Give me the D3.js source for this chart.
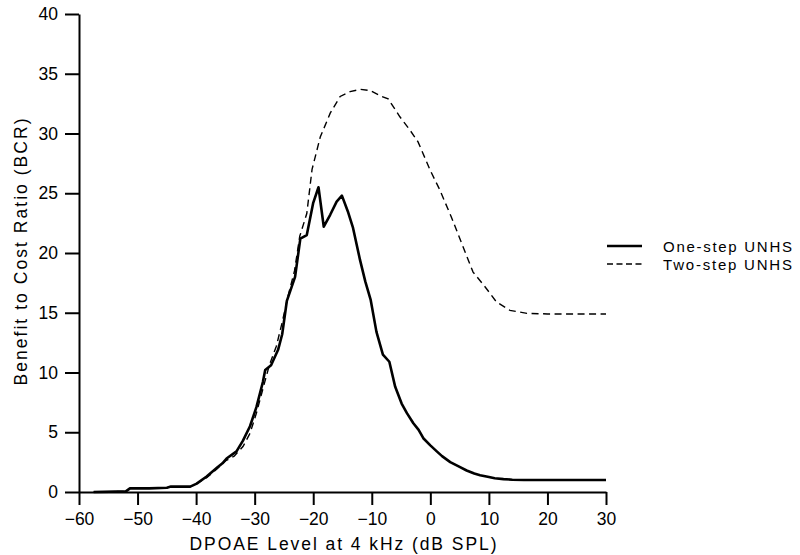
<!DOCTYPE html>
<html>
<head>
<meta charset="utf-8">
<script src="https://cdn.jsdelivr.net/npm/d3@7"></script>
<style>
  html, body { margin: 0; padding: 0; background: #fff; }
  svg text { font-family: "Liberation Sans", Arial, sans-serif; fill: #000; }
</style>
</head>
<body>
<svg id="chart" width="800" height="555"></svg>
<script>
// ---- data ----
const oneStepX = [-57.5, -52, -51.3, -48, -45, -44.3, -41, -39.9, -38.2, -36.5, -35.5, -34.8, -33.1, -32, -30.8, -29.7, -28.6, -28.2, -27.2, -26, -25.3, -24.5, -23.1, -22.2, -21.1, -20, -19.1, -18.2, -17.1, -16, -15.1, -14.1, -13.2, -12, -11.1, -10.2, -9.2, -8.1, -7, -6, -4.9, -4, -2.9, -2, -1.2, 0, 1.1, 2, 3.4, 5, 6.2, 7.5, 8.5, 10, 11, 12.5, 14, 16, 18, 30];
const oneStepY = [0, 0.05, 0.3, 0.3, 0.35, 0.45, 0.45, 0.7, 1.3, 2.0, 2.4, 2.8, 3.4, 4.3, 5.5, 7.1, 9.2, 10.2, 10.6, 11.9, 13.2, 16.0, 18.0, 21.2, 21.5, 24.2, 25.5, 22.2, 23.2, 24.3, 24.8, 23.5, 22.1, 19.4, 17.6, 16.1, 13.4, 11.5, 10.9, 8.8, 7.4, 6.6, 5.75, 5.2, 4.5, 3.9, 3.4, 3.0, 2.5, 2.1, 1.8, 1.55, 1.4, 1.25, 1.15, 1.08, 1.03, 1.0, 1.0, 1.0];

const twoStepX = [-57.5, -52, -51.3, -48, -45, -44.3, -41, -39.9, -38.2, -36.5, -35, -33.5, -32, -30.8, -29.7, -28.5, -27.5, -26.3, -25.3, -24.3, -23.2, -22.3, -21.1, -20.2, -18.8, -17.1, -15.4, -13.7, -12, -10.3, -8.3, -7.2, -5.2, -3.5, -2.1, 0, 1.6, 3.6, 5.6, 7.3, 9.3, 11.3, 13.6, 16.5, 20, 30];
const twoStepY = [0, 0.05, 0.3, 0.3, 0.35, 0.45, 0.45, 0.7, 1.2, 1.9, 2.6, 3.0, 3.8, 4.9, 6.6, 8.8, 10.6, 12.2, 14.2, 16.4, 18.5, 21.4, 23.3, 27.0, 29.7, 31.7, 33.1, 33.5, 33.7, 33.6, 33.1, 32.9, 31.4, 30.3, 29.3, 26.9, 25.3, 23.0, 20.5, 18.4, 17.2, 15.9, 15.2, 14.95, 14.9, 14.9];

const xTicks = [-60, -50, -40, -30, -20, -10, 0, 10, 20, 30];
const yTicks = [0, 5, 10, 15, 20, 25, 30, 35, 40];
const seriesNames = ["One-step UNHS", "Two-step UNHS"];
const xLabel = "DPOAE Level at 4 kHz (dB SPL)";
const yLabel = "Benefit to Cost Ratio (BCR)";

// ---- layout ----
const svg = d3.select("#chart");
const x = d3.scaleLinear().domain([-60, 30]).range([79, 606]);
const y = d3.scaleLinear().domain([0, 40]).range([492, 14]);

const xAxis = svg.append("g").attr("transform", `translate(0,${y(0)})`)
  .call(d3.axisBottom(x).tickValues(xTicks).tickSize(13).tickSizeOuter(0).tickPadding(8));
const yAxis = svg.append("g").attr("transform", `translate(${x(-60)},0)`)
  .call(d3.axisLeft(y).tickValues(yTicks).tickSize(14).tickSizeOuter(0).tickPadding(7));

[xAxis, yAxis].forEach(g => {
  g.select(".domain").attr("stroke", "#000").attr("stroke-width", 2);
  g.selectAll(".tick line").attr("stroke", "#000").attr("stroke-width", 2);
  g.selectAll(".tick text").attr("font-size", 17.5)
    .attr("font-family", "Liberation Sans, Arial, sans-serif").attr("fill", "#000");
});

const line = d3.line().x(d => x(d[0])).y(d => y(d[1]));
const one = oneStepX.map((v, i) => [v, oneStepY[i]]);
const two = twoStepX.map((v, i) => [v, twoStepY[i]]);

svg.append("path").datum(two).attr("d", line)
  .attr("fill", "none").attr("stroke", "#000").attr("stroke-width", 1.4)
  .attr("stroke-dasharray", "7,4.5");
svg.append("path").datum(one).attr("d", line)
  .attr("fill", "none").attr("stroke", "#000").attr("stroke-width", 2.6)
  .attr("stroke-linejoin", "round");

// axis titles
svg.append("text").attr("x", 343).attr("y", 550).attr("text-anchor", "middle")
  .attr("font-size", 17.5).attr("textLength", 307).attr("lengthAdjust", "spacing").text(xLabel);
svg.append("text").attr("transform", "translate(27,252) rotate(-90)")
  .attr("text-anchor", "middle").attr("font-size", 17.5)
  .attr("textLength", 267).attr("lengthAdjust", "spacing").text(yLabel);

// legend
const legend = svg.append("g");
seriesNames.forEach((name, i) => {
  const ly = 246 + i * 18;
  legend.append("line").attr("x1", 607).attr("x2", 642).attr("y1", ly).attr("y2", ly)
    .attr("stroke", "#000").attr("stroke-width", i === 0 ? 2.6 : 1.3)
    .attr("stroke-dasharray", i === 0 ? null : "6,3.5");
  legend.append("text").attr("x", 663).attr("y", ly + 5.5).attr("font-size", 15)
    .attr("textLength", 129).attr("lengthAdjust", "spacing").text(name);
});
</script>
</body>
</html>
